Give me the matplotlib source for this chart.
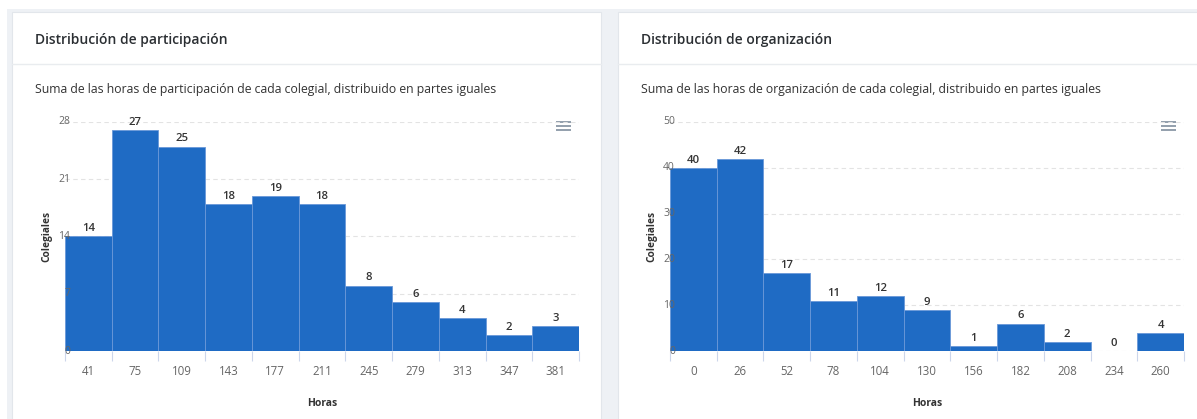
import matplotlib.pyplot as plt
from matplotlib.patches import Rectangle

plt.rcParams['font.family'] = ['Open Sans', 'DejaVu Sans']

# data
part_labels = ['41', '75', '109', '143', '177', '211', '245', '279', '313', '347', '381']
part_values = [14, 27, 25, 18, 19, 18, 8, 6, 4, 2, 3]
part_yticks = [0, 7, 14, 21, 28]

org_labels = ['0', '26', '52', '78', '104', '130', '156', '182', '208', '234', '260']
org_values = [40, 42, 17, 11, 12, 9, 1, 6, 2, 0, 4]
org_yticks = [0, 10, 20, 30, 40, 50]

titles = ['Distribución de participación', 'Distribución de organización']
subtitles = ['Suma de las horas de participación de cada colegial, distribuido en partes iguales',
             'Suma de las horas de organización de cada colegial, distribuido en partes iguales']

W, H = 1197, 419
BAR = '#1f6bc4'
TXT = '#333333'

fig = plt.figure(figsize=(W / 100, H / 100), dpi=100)
fig.patch.set_facecolor('white')

# background layer in pixel coordinates
bg = fig.add_axes([0, 0, 1, 1])
bg.set_xlim(0, W)
bg.set_ylim(H, 0)
bg.axis('off')
bg.add_patch(Rectangle((7, 9), W, H, facecolor='#eef1f5', edgecolor='none'))

card_x = [12, 618]
card_w = [589, 600]
for i in range(2):
    x0 = card_x[i]
    bg.add_patch(Rectangle((x0, 12), card_w[i], H, facecolor='white',
                           edgecolor='#e2e6eb', lw=0.8))
    bg.plot([x0, x0 + card_w[i]], [64, 64], color='#e9ecef', lw=1)
    bg.text(x0 + 23, 40, titles[i], fontsize=10.0, color='#2b2f33',
            ha='left', va='center', weight='semibold')
    bg.text(x0 + 23, 90, subtitles[i], fontsize=8.8, color=TXT,
            ha='left', va='center')

# hamburger menu icons
for mx in [556, 1161]:
    for my in [122, 126, 130]:
        bg.plot([mx, mx + 15], [my, my], color='#8a97a6', lw=1.3,
                solid_capstyle='butt')


def draw_hist(left, labels, values, yticks):
    ax = fig.add_axes([left / W, (H - 351) / H, 514 / W, 229 / H])
    ax.set_facecolor('none')
    x = list(range(len(values)))
    ax.bar(x, values, width=1, color=BAR, edgecolor='#6a98d8', lw=0.6, zorder=2)
    ax.set_xlim(-0.5, len(values) - 0.5)
    ax.set_ylim(0, yticks[-1])
    for s in ax.spines.values():
        s.set_visible(False)

    # y labels drawn as text so they sit on top of the bars, like the original
    ax.set_yticks(yticks)
    ax.set_yticklabels([])
    ax.tick_params(axis='y', length=0)
    ax.grid(axis='y', color='#e3e3e3', ls=(0, (4, 3)), lw=0.8, zorder=0)
    for t in yticks:
        ax.annotate(str(t), (0, t), xycoords=('axes fraction', 'data'),
                    xytext=(5, 0), textcoords='offset pixels', ha='right',
                    va='center', fontsize=7.5, color='#666666', zorder=5)

    ax.set_xticks(x)
    ax.set_xticklabels(labels)
    ax.set_xticks([i - 0.5 for i in range(len(values) + 1)], minor=True)
    ax.tick_params(axis='x', which='major', length=0, pad=10, labelsize=8.3,
                   labelcolor='#666666')
    ax.tick_params(axis='x', which='minor', length=7, width=0.8, color='#ccd6eb')

    for i, v in enumerate(values):
        ax.annotate(str(v), (i, v), xytext=(0, 1.5), textcoords='offset points',
                    ha='center', va='bottom', fontsize=8.2, color=TXT,
                    weight='semibold')

    ax.text(-18 / 514, 0.5, 'Colegiales', transform=ax.transAxes, rotation=90,
            ha='center', va='center', fontsize=7.3, weight='bold', color=TXT)
    ax.text(0.5, -52 / 229, 'Horas', transform=ax.transAxes, ha='center',
            va='center', fontsize=7.5, weight='bold', color=TXT)
    return ax


draw_hist(65, part_labels, part_values, part_yticks)
draw_hist(670, org_labels, org_values, org_yticks)

fig.savefig('out.png', dpi=100)
